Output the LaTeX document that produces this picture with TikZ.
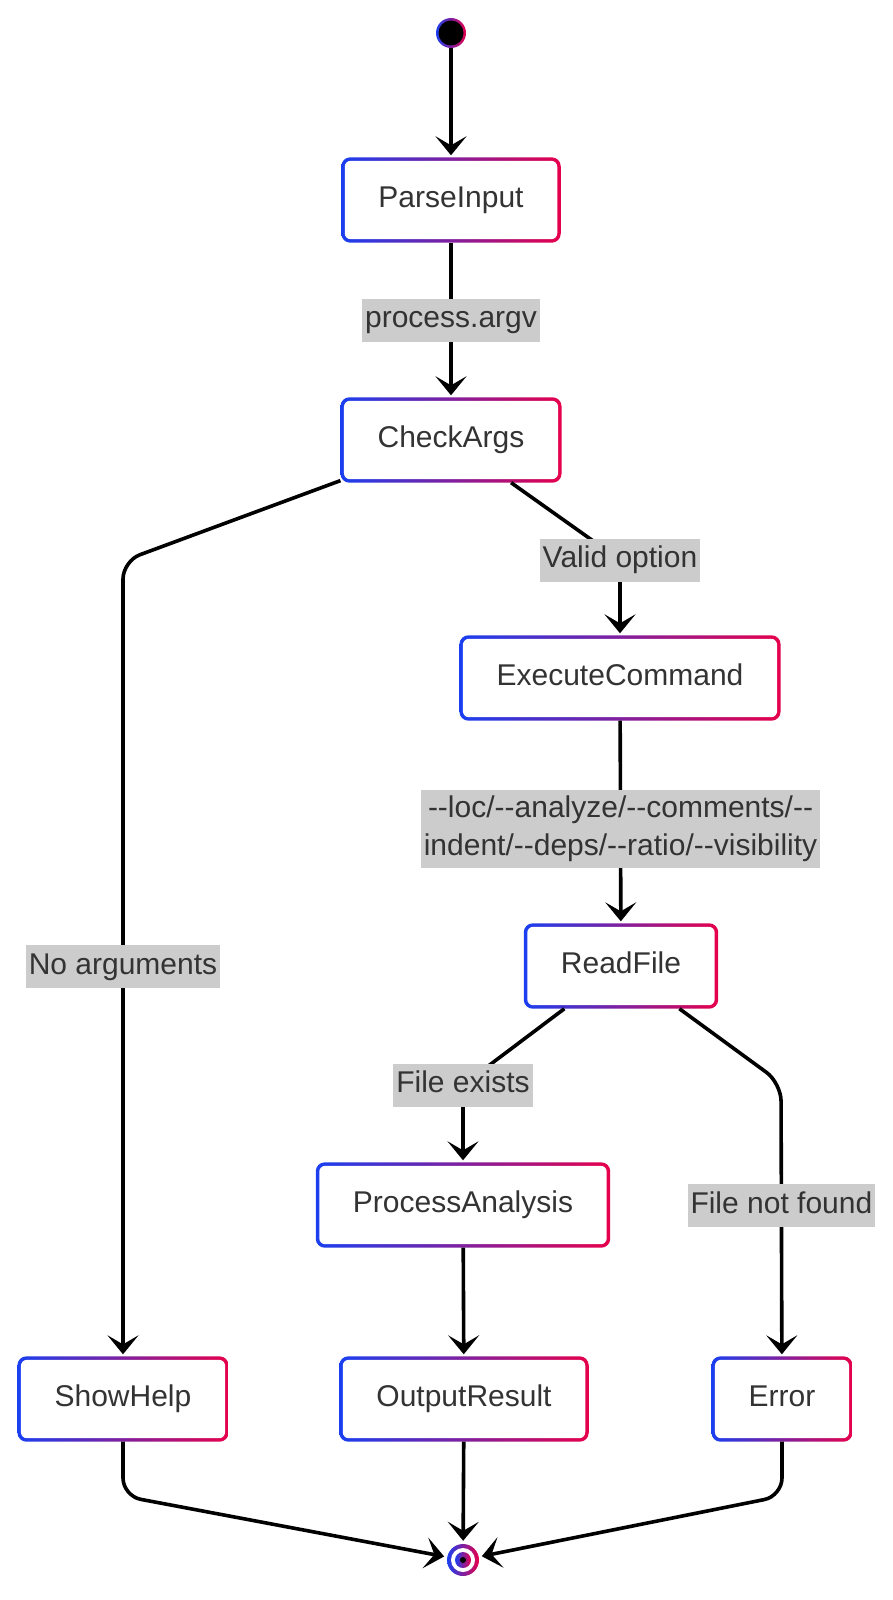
\documentclass[tikz,border=0pt]{standalone}
\usepackage{fontspec}
\setmainfont{Liberation Sans}
\usetikzlibrary{arrows.meta,backgrounds}
\definecolor{gradL}{HTML}{1A3FF0}
\definecolor{gradR}{HTML}{E6004C}
\definecolor{txt}{HTML}{333333}
\newcommand\dsh{\mbox{-}\mbox{-}}
\tikzset{
  box/.style={minimum height=85pt, inner xsep=37pt, text=txt, text height=22pt, text depth=7pt, font=\fontsize{30}{36}\selectfont},
  lbl/.style={sharp corners, fill=gray!40, text=txt, font=\fontsize{30}{36}\selectfont, inner xsep=3pt, inner ysep=7pt, text height=22pt, text depth=7pt},
  lblwide/.style={sharp corners, fill=gray!40, text=txt, font=\fontsize{30}{38}\selectfont, inner xsep=3pt, inner ysep=6pt, align=center},
  arr/.style={line width=3.6pt, -{Stealth[length=19pt,width=31pt,inset=9pt]}, shorten >=2pt, rounded corners=18pt},
  grad/.style={left color=gradL, right color=gradR}
}
\begin{document}
\begin{tikzpicture}[x=1pt,y=-1pt]
    \useasboundingbox (0,0) rectangle (893,1600);
    \node[circle, inner sep=0pt, minimum size=30pt] (init) at (451,33) {};
    \node[box] (parse) at (451,200) {ParseInput};
    \node[box] (check) at (451,440) {CheckArgs};
    \node[box] (exec) at (620,678) {ExecuteCommand};
    \node[box] (read) at (621,966) {ReadFile};
    \node[box] (proc) at (463,1205) {ProcessAnalysis};
    \node[box] (help) at (123,1399) {ShowHelp};
    \node[box] (out) at (464,1399) {OutputResult};
    \node[box] (error) at (782,1399) {Error};
    \node[circle, inner sep=0pt, minimum size=34pt] (stop) at (463,1560) {};

    \coordinate (bendA) at (123,561);
    \coordinate (bendB) at (620,560);
    \coordinate (bendC) at (463,1085);
    \coordinate (bendD) at (781,1083);
    \coordinate (bendE) at (123,1496);
    \coordinate (bendF) at (782,1496);

    \draw[arr] (init) -- (parse);
    \draw[arr] (parse) -- node[lbl] {process.argv} (check);
    \draw[arr] (check) -- (bendA) -- node[lbl, pos=0.51] {No arguments} (help);
    \draw[arr] (check) -- (bendB) node[lbl] {Valid option} -- (exec);
    \draw[arr] (exec) -- node[lblwide, pos=0.535] {\dsh loc/\dsh analyze/\dsh comments/\dsh\\indent/\dsh deps/\dsh ratio/\dsh visibility} (read);
    \draw[arr] (read) -- (bendC) node[lbl] {File exists} -- (proc);
    \draw[arr] (read) -- (bendD) -- node[lbl, pos=0.45] {File not found} (error);
    \draw[arr] (proc) -- (out);
    \draw[arr] (help) -- (bendE) -- (stop);
    \draw[arr] (out) -- (stop);
    \draw[arr] (error) -- (bendF) -- (stop);

    \begin{scope}[on background layer]
        \foreach \n in {parse,check,exec,read,proc,help,out,error} {
            \shade[grad, rounded corners=9pt] (\n.south west) rectangle (\n.north east);
            \fill[white, rounded corners=6pt] ([xshift=3.5pt,yshift=3.5pt]\n.south west) rectangle ([xshift=-3.5pt,yshift=-3.5pt]\n.north east);
        }
    \end{scope}

    \shade[grad] (init) circle (15pt);
    \fill[black] (init) circle (12.5pt);
    \shade[grad] (stop) circle (16pt);
    \fill[white] (stop) circle (12pt);
    \shade[grad] (stop) circle (8pt);
    \fill[black] (stop) circle (3pt);
\end{tikzpicture}
\end{document}
